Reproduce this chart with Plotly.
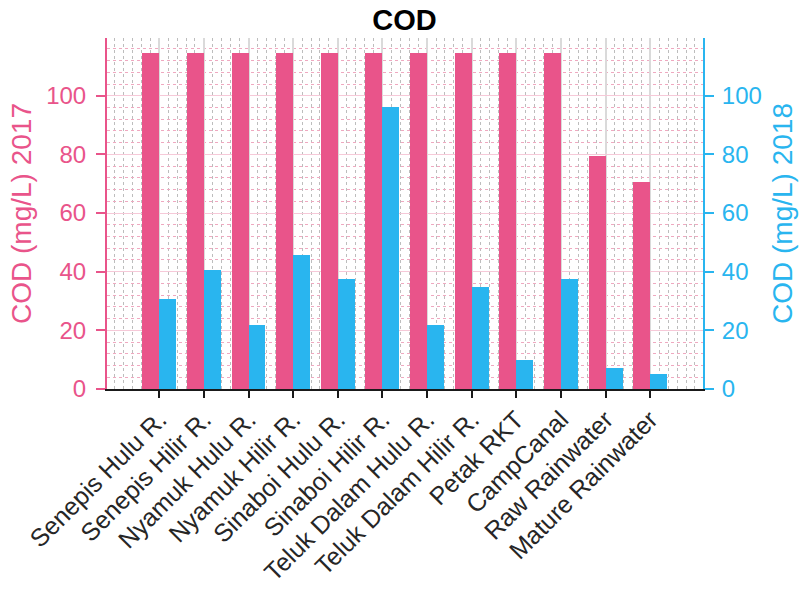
import plotly.graph_objects as go

categories = ["Senepis Hulu R.", "Senepis Hilir R.", "Nyamuk Hulu R.", "Nyamuk Hilir R.",
              "Sinaboi Hulu R.", "Sinaboi Hilir R.", "Teluk Dalam Hulu R.", "Teluk Dalam Hilir R.",
              "Petak RKT", "CampCanal", "Raw Rainwater", "Mature Rainwater"]
cod_2017 = [114.7, 114.7, 114.7, 114.7, 114.7, 114.7, 114.7, 114.7, 114.7, 114.7, 79.4, 70.6]
cod_2018 = [30.7, 40.6, 21.8, 45.7, 37.4, 96.1, 21.8, 34.9, 9.9, 37.4, 7.1, 5.1]
y_ticks = [0, 20, 40, 60, 80, 100]

PINK = "#E9548A"
BLUE = "#29B5EF"
FONT = "Liberation Sans, Arial, sans-serif"

xpos = list(range(len(categories)))

fig = go.Figure()
fig.add_trace(go.Bar(x=xpos, y=cod_2017, marker=dict(color=PINK, line=dict(width=0)),
                     width=0.38, offset=-0.38, yaxis="y", name="2017", showlegend=False))
fig.add_trace(go.Bar(x=xpos, y=cod_2018, marker=dict(color=BLUE, line=dict(width=0)),
                     width=0.38, offset=0.0, yaxis="y2", name="2018", showlegend=False))

fig.update_layout(
    width=801, height=589,
    margin=dict(l=107, r=98, t=38, b=200, autoexpand=False),
    plot_bgcolor="white", paper_bgcolor="white",
    font=dict(family=FONT, color="#262626"),
    title=dict(text="<b>COD</b>", x=0.505, xanchor="center", y=0.966, yanchor="middle",
               font=dict(size=29, color="black", family=FONT)),
    xaxis=dict(
        range=[-1.17, 12.18], tickmode="array", tickvals=xpos, ticktext=categories,
        tickangle=-45, tickfont=dict(size=25, color="#262626"), automargin=False,
        ticklabelstandoff=-3,
        showline=True, linecolor="#1a1a1a", linewidth=2,
        ticks="outside", ticklen=7, tickwidth=2, tickcolor="#1a1a1a",
        showgrid=True, gridcolor="#DADADA", gridwidth=2,
        minor=dict(dtick=0.2, tick0=0, showgrid=True, gridcolor="#BDBDBD",
                   griddash="dot", gridwidth=1),
        zeroline=False,
    ),
    yaxis=dict(
        range=[0, 119.7], tickmode="array", tickvals=y_ticks, automargin=False,
        tickfont=dict(size=24, color=PINK), ticklabelstandoff=5,
        title=dict(text="COD (mg/L) 2017", font=dict(size=28, color=PINK), standoff=6),
        showline=True, linecolor=PINK, linewidth=2,
        ticks="outside", ticklen=9, tickwidth=2, tickcolor=PINK,
        showgrid=True, gridcolor="#F6C9D8", gridwidth=1,
        minor=dict(dtick=4, tick0=0, showgrid=True, gridcolor="#EFA9C0",
                   griddash="dot", gridwidth=1),
        zeroline=False,
    ),
    yaxis2=dict(
        range=[0, 119.7], tickmode="array", tickvals=y_ticks, overlaying="y", side="right",
        tickfont=dict(size=24, color=BLUE), automargin=False, ticklabelstandoff=3,
        title=dict(text="COD (mg/L) 2018", font=dict(size=28, color=BLUE), standoff=12),
        showline=True, linecolor=BLUE, linewidth=2,
        ticks="outside", ticklen=9, tickwidth=2, tickcolor=BLUE,
        showgrid=False, zeroline=False,
    ),
    bargap=0, barmode="overlay",
)

fig.write_html("out.html", config={"displayModeBar": False},
               post_script="document.body.style.margin='0';")
